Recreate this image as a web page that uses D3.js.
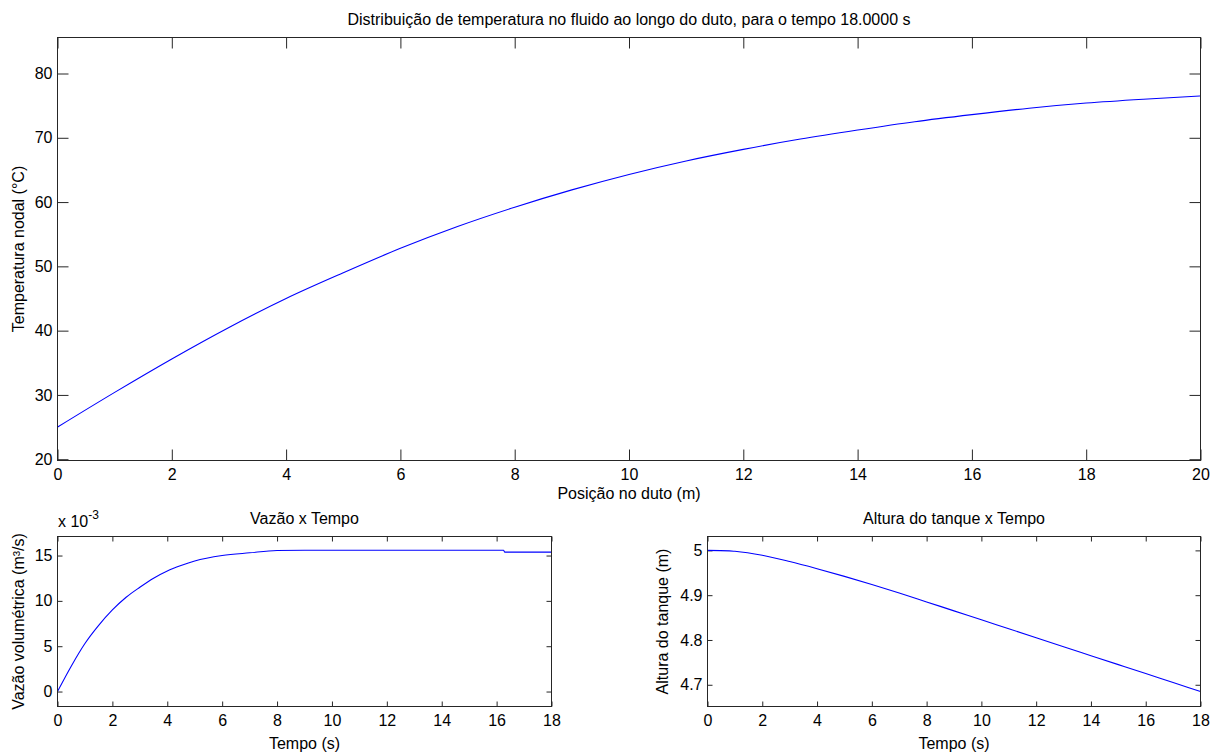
<!DOCTYPE html>
<html>
<head>
<meta charset="utf-8">
<script src="https://cdn.jsdelivr.net/npm/d3@7/dist/d3.min.js"></script>
<style>
  body { margin: 0; background: #fff; }
  svg { display: block; font-family: "Liberation Sans", Arial, sans-serif; }
  .axis text { fill: #000; }
  .axis line { stroke: #262626; }
</style>
</head>
<body>
<div id="figure"></div>
<script>
'use strict';

// temperature along the duct, t = 18 s
var position = [0, 1, 2, 3, 4, 5, 6, 7, 8, 9, 10, 11, 12, 13, 14, 15, 16, 17, 18, 19, 20];
var temperature = [25.0, 30.4, 35.6, 40.5, 45.0, 49.0, 52.8, 56.2, 59.2, 61.9, 64.3, 66.4, 68.2, 69.8, 71.2, 72.5, 73.6, 74.6, 75.4, 76.0, 76.5];
var tempTicks = [20, 30, 40, 50, 60, 70, 80];
var posTicks = [0, 2, 4, 6, 8, 10, 12, 14, 16, 18, 20];

// flow rate vs time (m3/s)
var flowTime = [0, 0.5, 1, 1.5, 2, 2.5, 3, 3.5, 4, 4.5, 5, 6, 7, 8, 9, 10, 12, 14, 16.25, 16.3, 18];
var flowValue = [0, 0.0028, 0.0053, 0.0073, 0.0090, 0.0104, 0.0115, 0.0125, 0.0133, 0.0139, 0.0144, 0.0150, 0.0153, 0.01555, 0.01558, 0.01558, 0.01558, 0.01558, 0.01558, 0.01538, 0.01538];
var flowTicks = [0, 0.005, 0.010, 0.015];

// tank level vs time (m)
var levelTime = [0, 0.8, 1, 2, 3, 4, 5, 6, 7, 8, 9, 10, 11, 12, 13, 14, 15, 16, 17, 18];
var levelValue = [5.000, 4.999, 4.998, 4.989, 4.975, 4.959, 4.942, 4.924, 4.905, 4.885, 4.865, 4.845, 4.825, 4.805, 4.785, 4.765, 4.745, 4.725, 4.705, 4.685];
var levelTicks = [4.7, 4.8, 4.9, 5];
var timeTicks = [0, 2, 4, 6, 8, 10, 12, 14, 16, 18];

var W = 1221;
var H = 756;
var fontSize = 16;

var svg = d3.select('#figure')
            .append('svg')
            .attr('width', W)
            .attr('height', H);

// draws one matlab-style box axes with inward ticks on all four sides
function makeLinePlot(opts) {
  var x = d3.scaleLinear().domain(opts.xDomain).range([opts.left, opts.right]);
  var y = d3.scaleLinear().domain(opts.yDomain).range([opts.bottom, opts.top]);
  var tick = opts.tickLen;

  var g = svg.append('g');

  var fmtY = opts.yFormat || function(d) { return d; };

  g.append('g')
   .attr('class', 'axis')
   .attr('transform', 'translate(0,' + opts.bottom + ')')
   .call(d3.axisBottom(x).tickValues(opts.xTicks).tickSizeInner(-tick).tickSizeOuter(0).tickPadding(8))
   .call(function(s) { s.select('.domain').remove(); })
   .selectAll('text').style('font-size', fontSize + 'px');

  g.append('g')
   .attr('class', 'axis')
   .attr('transform', 'translate(0,' + opts.top + ')')
   .call(d3.axisTop(x).tickValues(opts.xTicks).tickSizeInner(-tick).tickSizeOuter(0).tickFormat(''))
   .call(function(s) { s.select('.domain').remove(); });

  g.append('g')
   .attr('class', 'axis')
   .attr('transform', 'translate(' + opts.left + ',0)')
   .call(d3.axisLeft(y).tickValues(opts.yTicks).tickSizeInner(-tick).tickSizeOuter(0).tickPadding(5).tickFormat(fmtY))
   .call(function(s) { s.select('.domain').remove(); })
   .selectAll('text').style('font-size', fontSize + 'px');

  g.append('g')
   .attr('class', 'axis')
   .attr('transform', 'translate(' + opts.right + ',0)')
   .call(d3.axisRight(y).tickValues(opts.yTicks).tickSizeInner(-tick).tickSizeOuter(0).tickFormat(''))
   .call(function(s) { s.select('.domain').remove(); });

  var line = d3.line()
               .x(function(d) { return x(d[0]); })
               .y(function(d) { return y(d[1]); })
               .curve(d3.curveMonotoneX);

  g.append('path')
   .datum(d3.zip(opts.xs, opts.ys))
   .attr('d', line)
   .attr('fill', 'none')
   .attr('stroke', '#0000ff')
   .attr('stroke-width', 1.1);

  g.append('rect')
   .attr('x', opts.left)
   .attr('y', opts.top)
   .attr('width', opts.right - opts.left)
   .attr('height', opts.bottom - opts.top)
   .attr('fill', 'none')
   .attr('stroke', '#262626')
   .attr('stroke-width', 1);

  g.append('text')
   .attr('x', (opts.left + opts.right) / 2)
   .attr('y', opts.top - 13)
   .attr('text-anchor', 'middle')
   .style('font-size', fontSize + 'px')
   .text(opts.title);

  g.append('text')
   .attr('x', (opts.left + opts.right) / 2)
   .attr('y', opts.bottom + opts.xLabelOffset)
   .attr('text-anchor', 'middle')
   .style('font-size', fontSize + 'px')
   .text(opts.xLabel);

  g.append('text')
   .attr('transform', 'translate(' + opts.yLabelX + ',' + ((opts.top + opts.bottom) / 2) + ') rotate(-90)')
   .attr('text-anchor', 'middle')
   .style('font-size', fontSize + 'px')
   .text(opts.yLabel);

  return g;
}

makeLinePlot({
  left: 57.5, right: 1200.5, top: 37.5, bottom: 460.5,
  xDomain: [0, 20], yDomain: [19.8, 85.6],
  xTicks: posTicks, yTicks: tempTicks, tickLen: 11,
  xs: position, ys: temperature,
  title: 'Distribuição de temperatura no fluido ao longo do duto, para o tempo 18.0000 s',
  xLabel: 'Posição no duto (m)', xLabelOffset: 38,
  yLabel: 'Temperatura nodal (°C)', yLabelX: 24
});

var flowPlot = makeLinePlot({
  left: 57.5, right: 551.5, top: 536.5, bottom: 706.5,
  xDomain: [0, 18], yDomain: [-0.00165, 0.0171],
  xTicks: timeTicks, yTicks: flowTicks, tickLen: 5,
  yFormat: function(d) { return Math.round(d * 1000); },
  xs: flowTime, ys: flowValue,
  title: 'Vazão x Tempo',
  xLabel: 'Tempo (s)', xLabelOffset: 42,
  yLabel: 'Vazão volumétrica (m³/s)', yLabelX: 24
});

// exponent label above the flow axes
var expo = flowPlot.append('text')
                   .attr('x', 58)
                   .attr('y', 527)
                   .style('font-size', fontSize + 'px');
expo.append('tspan').text('x 10');
expo.append('tspan').attr('dy', -8).style('font-size', '12px').text('-3');

makeLinePlot({
  left: 707.5, right: 1200.5, top: 536.5, bottom: 706.5,
  xDomain: [0, 18], yDomain: [4.6515, 5.031],
  xTicks: timeTicks, yTicks: levelTicks, tickLen: 5,
  xs: levelTime, ys: levelValue,
  title: 'Altura do tanque x Tempo',
  xLabel: 'Tempo (s)', xLabelOffset: 42,
  yLabel: 'Altura do tanque (m)', yLabelX: 668
});
</script>
</body>
</html>
